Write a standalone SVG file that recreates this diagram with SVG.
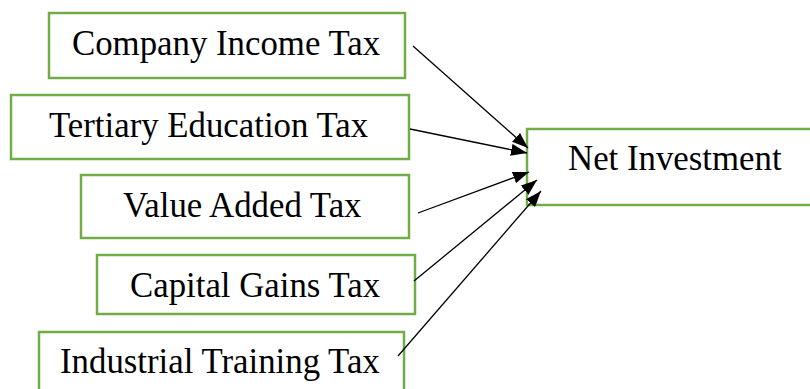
<svg xmlns="http://www.w3.org/2000/svg" width="810" height="389" viewBox="0 0 810 389">
  <style>
    .box { fill: #ffffff; stroke: #70AD47; stroke-width: 2.5; }
    .label { font-family: "Liberation Serif", "Times New Roman", serif; font-size: 34.8px; fill: #000000; }
    .conn { stroke: #000000; stroke-width: 1.3; fill: none; marker-end: url(#arrow); }
  </style>
  <defs>
    <marker id="arrow" markerUnits="userSpaceOnUse" markerWidth="16" markerHeight="12" refX="16" refY="6" orient="auto">
      <path d="M0,0 L16,6 L0,12 z" fill="#000000"/>
    </marker>
  </defs>

  <g id="company-income-tax">
    <rect class="box" x="49" y="13" width="356" height="65"/>
    <text class="label" x="72" y="55">Company Income Tax</text>
  </g>
  <g id="tertiary-education-tax">
    <rect class="box" x="11" y="95" width="398" height="64"/>
    <text class="label" x="49" y="137">Tertiary Education Tax</text>
  </g>
  <g id="value-added-tax">
    <rect class="box" x="81" y="175" width="328" height="63"/>
    <text class="label" x="123" y="217">Value Added Tax</text>
  </g>
  <g id="capital-gains-tax">
    <rect class="box" x="97" y="255" width="318" height="59"/>
    <text class="label" x="130" y="297">Capital Gains Tax</text>
  </g>
  <g id="industrial-training-tax">
    <rect class="box" x="39" y="332" width="365" height="70"/>
    <text class="label" x="60" y="373">Industrial Training Tax</text>
  </g>
  <g id="net-investment">
    <rect class="box" x="527" y="129" width="300" height="76"/>
    <text class="label" x="568" y="170">Net Investment</text>
  </g>

  <g id="connectors">
    <line class="conn" x1="413" y1="46" x2="528" y2="148"/>
    <line class="conn" x1="410" y1="129" x2="527" y2="153"/>
    <line class="conn" x1="418" y1="213" x2="529" y2="172"/>
    <line class="conn" x1="414" y1="281" x2="537" y2="180"/>
    <line class="conn" x1="398" y1="356" x2="541" y2="191"/>
  </g>
</svg>
